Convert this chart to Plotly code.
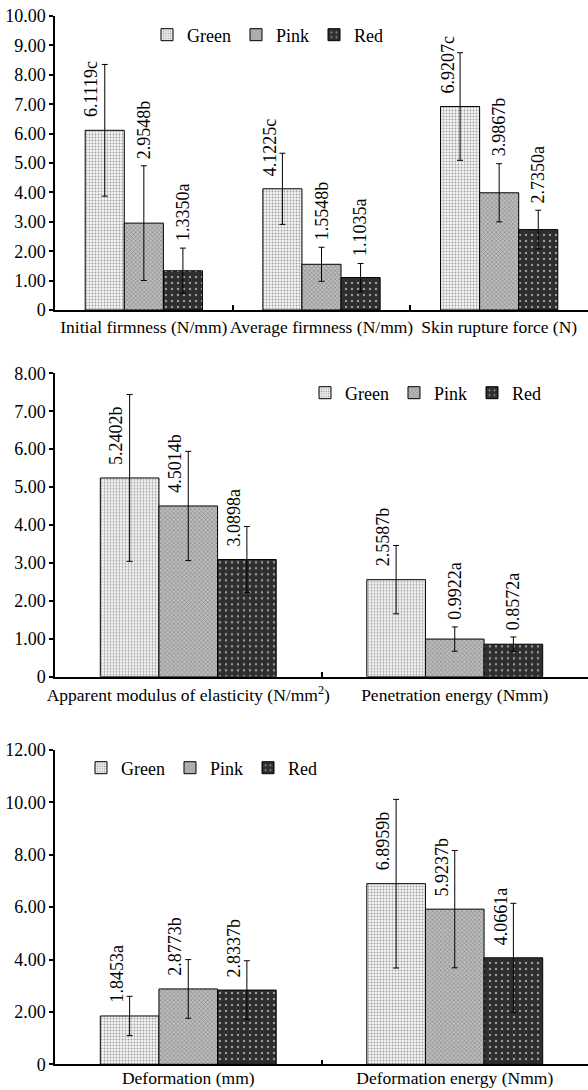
import plotly.graph_objects as go

# ---------------- data ----------------
cats1 = ["Initial firmness (N/mm)", "Average firmness (N/mm)", "Skin rupture force (N)"]
green1 = [6.1119, 4.1225, 6.9207]
pink1 = [2.9548, 1.5548, 3.9867]
red1 = [1.3350, 1.1035, 2.7350]
green1_sd = [2.24, 1.21, 1.83]
pink1_sd = [1.95, 0.58, 0.99]
red1_sd = [0.77, 0.48, 0.66]
green1_sig = ["c", "c", "c"]
pink1_sig = ["b", "b", "b"]
red1_sig = ["a", "a", "a"]

cats2 = ["Apparent modulus of elasticity (N/mm<sup>2</sup>)", "Penetration energy (Nmm)"]
green2 = [5.2402, 2.5587]
pink2 = [4.5014, 0.9922]
red2 = [3.0898, 0.8572]
green2_sd = [2.20, 0.90]
pink2_sd = [1.44, 0.32]
red2_sd = [0.87, 0.19]
green2_sig = ["b", "b"]
pink2_sig = ["b", "a"]
red2_sig = ["a", "a"]

cats3 = ["Deformation (mm)", "Deformation energy (Nmm)"]
green3 = [1.8453, 6.8959]
pink3 = [2.8773, 5.9237]
red3 = [2.8337, 4.0661]
green3_sd = [0.75, 3.22]
pink3_sd = [1.12, 2.24]
red3_sd = [1.12, 2.08]
green3_sig = ["a", "b"]
pink3_sig = ["b", "b"]
red3_sig = ["b", "a"]

series_names = ["Green", "Pink", "Red"]

yticks1 = [0, 1, 2, 3, 4, 5, 6, 7, 8, 9, 10]
yticks2 = [0, 1, 2, 3, 4, 5, 6, 7, 8]
yticks3 = [0, 2, 4, 6, 8, 10, 12]

# ---------------- styles ----------------
FONT = "Liberation Serif"
patterns = [
    dict(shape=".", bgcolor="#f4f4f4", fgcolor="#a0a0a0", size=3, solidity=0.3),
    dict(shape="x", bgcolor="#bdbdbd", fgcolor="#7a7a7a", size=3, solidity=0.3),
    dict(shape=".", bgcolor="#2e2e2e", fgcolor="#9c9c9c", size=6, solidity=0.12),
]
# label placement: "L" = beside error bar (left), "T" = above error bar
place1 = [["L", "L", "L"], ["T", "T", "T"], ["T", "T", "T"]]
place2 = [["L", "L"], ["L", "T"], ["L", "T"]]
place3 = [["L", "L"], ["L", "L"], ["L", "L"]]

fig = go.Figure()
annotations = []

panels = [
    (cats1, [green1, pink1, red1], [green1_sd, pink1_sd, red1_sd],
     [green1_sig, pink1_sig, red1_sig], place1, "x", "y", "legend"),
    (cats2, [green2, pink2, red2], [green2_sd, pink2_sd, red2_sd],
     [green2_sig, pink2_sig, red2_sig], place2, "x2", "y2", "legend2"),
    (cats3, [green3, pink3, red3], [green3_sd, pink3_sd, red3_sd],
     [green3_sig, pink3_sig, red3_sig], place3, "x3", "y3", "legend3"),
]

BARW = (1 - 0.34) / 3
for cats, vals, sds, sigs, place, xa, ya, lg in panels:
    for j, name in enumerate(series_names):
        fig.add_trace(go.Bar(
            x=cats, y=vals[j], name=name, xaxis=xa, yaxis=ya, legend=lg,
            marker=dict(color=patterns[j]["bgcolor"], pattern=patterns[j],
                        line=dict(color="black", width=1)),
            error_y=dict(type="data", array=sds[j], color="black", thickness=1, width=3),
        ))
        for i in range(len(cats)):
            v = vals[j][i]
            txt = f"{v:.4f}{sigs[j][i]}"
            if place[j][i] == "L":
                yy, xs, ys = v, -13, 11
            else:
                yy, xs, ys = v + sds[j][i], 0, 5
            annotations.append(dict(
                x=i + (j - 1) * BARW, y=yy, xref=xa, yref=ya, text=txt,
                textangle=-90, showarrow=False, xanchor="center", yanchor="bottom",
                xshift=xs, yshift=ys, font=dict(family=FONT, size=18, color="black"),
            ))

W, H = 588, 1090
xdom = [55 / W, 1.0]
ydoms = [
    [(H - 310) / H, (H - 16) / H],
    [(H - 676.7) / H, (H - 373.3) / H],
    [(H - 1064.3) / H, (H - 750) / H],
]
yticks = [yticks1, yticks2, yticks3]
xstandoff = [0, 2, -3]

axis_common = dict(showline=True, linecolor="black", linewidth=1.5, showgrid=False,
                   zeroline=False, automargin=False,
                   tickfont=dict(family=FONT, size=18, color="black"))
layout = dict(
    template="none",
    width=W, height=H, margin=dict(l=0, r=0, t=0, b=0, autoexpand=False),
    paper_bgcolor="white", plot_bgcolor="white",
    barmode="group", bargap=0.34, bargroupgap=0,
    font=dict(family=FONT, size=18, color="black"),
    annotations=annotations,
)
for k in range(3):
    sx = "" if k == 0 else str(k + 1)
    ya = "y" + sx
    xa = "x" + sx
    layout["xaxis" + sx] = dict(
        axis_common, domain=xdom, anchor=ya, type="category", tickson="boundaries",
        ticks="inside", ticklen=5, tickcolor="black", tickwidth=1.5, tickangle=0,
        tickfont=dict(family=FONT, size=17.5, color="black"),
        ticklabelstandoff=xstandoff[k],
    )
    tv = yticks[k]
    layout["yaxis" + sx] = dict(
        axis_common, domain=ydoms[k], anchor=xa, range=[0, tv[-1]],
        tickvals=tv, ticktext=["0" if t == 0 else f"{t:.2f}" for t in tv],
        ticks="outside", ticklen=4, tickcolor="black", tickwidth=1.5,
    )

leg_common = dict(orientation="h", font=dict(family=FONT, size=18, color="black"),
                  bgcolor="rgba(0,0,0,0)", xanchor="left", yanchor="middle")
layout["legend"] = dict(leg_common, x=(163 - 16) / W, y=(H - 35) / H)
layout["legend2"] = dict(leg_common, x=(321 - 16) / W, y=(H - 393) / H)
layout["legend3"] = dict(leg_common, x=(97 - 16) / W, y=(H - 768) / H)

fig.update_layout(layout)
fig.write_html("out.html", config={"displayModeBar": False},
               post_script="document.body.style.margin='0';document.body.style.padding='0';")
